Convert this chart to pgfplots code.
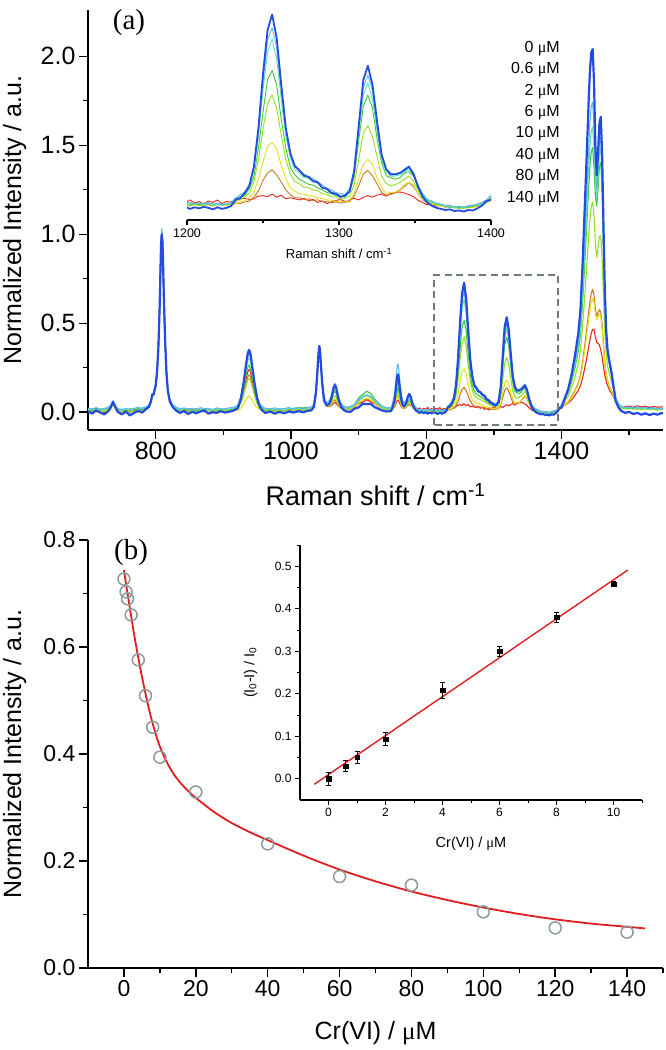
\documentclass[border=0pt]{standalone}
\usepackage{fontspec}
\setmainfont{Liberation Sans}
\newfontfamily\serif{Liberation Serif}
\usepackage{pgfplots}
\usepackage{pgfplotstable}
\pgfplotsset{compat=1.18}

\definecolor{c0}{RGB}{35,75,225}
\definecolor{c1}{RGB}{95,185,240}
\definecolor{c2}{RGB}{100,222,180}
\definecolor{c3}{RGB}{60,200,50}
\definecolor{c4}{RGB}{150,222,40}
\definecolor{c5}{RGB}{225,225,30}
\definecolor{c6}{RGB}{205,120,40}
\definecolor{c7}{RGB}{235,35,30}
\definecolor{boxgray}{RGB}{110,122,128}
\definecolor{circgray}{RGB}{140,155,155}
\definecolor{fitred}{RGB}{225,30,30}

\newcommand{\uM}{{\serif μ}M}

\pgfplotsset{
  panel/.style={
    scale only axis,
    axis x line*=bottom, axis y line*=left,
    tick align=outside,
    tick style={black, line width=1.4pt},
    axis line style={line width=1.8pt},
    major tick length=9pt, minor tick length=5pt,
    /pgf/number format/assume math mode=true,
    /pgf/number format/1000 sep={},
  },
  spec/.style={no marks, line join=round, line width=1.1pt},
}

\begin{document}

% Raman spectra, normalized to the 808 band
\pgfplotstableread{
x s0 s1 s2 s3 s4 s5 s6 s7
700 0.005 0.022 0.012 0.015 0.004 0.002 0.010 0.006
706 -0.008 0.018 0.020 0.010 0.012 0.008 0.002 0.014
712 0.010 0.026 0.010 0.020 0.002 0.000 0.012 0.020
718 -0.002 0.014 0.022 0.012 0.010 0.004 -0.002 0.008
724 -0.012 0.020 0.012 0.022 0.004 0.010 0.010 -0.002
730 0.006 0.028 0.018 0.016 0.012 0.006 0.008 0.018
734 0.030 0.040 0.036 0.032 0.028 0.020 0.026 0.030
737 0.060 0.058 0.052 0.050 0.042 0.038 0.044 0.048
740 0.032 0.040 0.038 0.030 0.030 0.022 0.028 0.034
744 0.002 0.020 0.016 0.012 0.008 0.006 0.010 0.012
750 -0.012 0.016 0.010 0.014 0.002 -0.002 0.008 0.000
756 0.004 0.022 0.018 0.008 0.012 0.004 0.000 0.014
762 -0.018 0.012 0.012 0.020 -0.002 0.010 0.012 0.002
768 -0.004 0.020 0.022 0.010 0.010 0.006 -0.002 0.012
774 0.008 0.028 0.016 0.018 0.004 0.000 0.010 0.020
780 -0.002 0.018 0.026 0.014 0.016 0.008 0.006 0.008
786 0.018 0.030 0.030 0.026 0.020 0.018 0.020 0.022
790 0.030 0.040 0.036 0.034 0.030 0.026 0.030 0.032
793 0.060 0.066 0.062 0.058 0.056 0.050 0.054 0.058
795 0.100 0.104 0.098 0.096 0.092 0.088 0.094 0.096
797 0.100 0.108 0.102 0.100 0.096 0.092 0.098 0.100
800 0.150 0.160 0.154 0.150 0.146 0.142 0.148 0.152
802 0.220 0.232 0.226 0.222 0.216 0.212 0.218 0.224
804 0.360 0.372 0.366 0.362 0.356 0.352 0.360 0.366
806 0.600 0.614 0.606 0.602 0.596 0.592 0.600 0.610
807 0.780 0.796 0.788 0.782 0.776 0.772 0.780 0.790
808 0.940 0.962 0.950 0.944 0.938 0.934 0.942 0.952
809 1.000 1.030 1.012 1.006 0.998 0.994 1.002 1.010
810 0.960 0.986 0.970 0.964 0.958 0.952 0.962 0.972
811 0.830 0.852 0.840 0.834 0.828 0.822 0.832 0.842
812 0.660 0.680 0.668 0.664 0.658 0.652 0.662 0.670
814 0.400 0.418 0.408 0.404 0.398 0.394 0.402 0.410
816 0.220 0.236 0.228 0.224 0.218 0.214 0.222 0.228
818 0.120 0.134 0.128 0.124 0.118 0.114 0.122 0.126
821 0.060 0.074 0.068 0.064 0.058 0.054 0.062 0.066
825 0.030 0.044 0.040 0.036 0.030 0.026 0.034 0.036
830 0.010 0.028 0.022 0.020 0.014 0.010 0.016 0.018
836 -0.004 0.020 0.012 0.016 0.006 0.004 0.012 0.010
842 0.006 0.024 0.020 0.010 0.012 0.010 0.004 0.018
848 -0.010 0.016 0.014 0.020 0.002 0.000 0.010 0.004
854 0.002 0.022 0.010 0.014 0.010 0.008 0.014 0.012
860 -0.006 0.012 0.018 0.008 0.004 -0.002 0.006 0.020
866 0.004 0.026 0.012 0.018 0.012 0.006 0.010 0.006
872 0.010 0.018 0.022 0.012 0.006 0.004 0.002 0.014
878 -0.008 0.022 0.014 0.020 0.010 0.010 0.012 0.008
884 0.000 0.014 0.010 0.010 0.002 0.002 0.008 0.016
890 -0.004 0.024 0.020 0.016 0.012 0.006 0.012 0.006
896 0.006 0.020 0.014 0.012 0.006 0.000 0.004 0.012
902 -0.002 0.016 0.018 0.018 0.010 0.008 0.010 0.010
908 0.002 0.024 0.016 0.014 0.008 0.004 0.008 0.014
914 0.008 0.026 0.022 0.020 0.014 0.008 0.014 0.016
920 0.018 0.036 0.030 0.028 0.020 0.012 0.020 0.024
922 0.028 0.045 0.038 0.035 0.024 0.012 0.026 0.028
926 0.077 0.088 0.079 0.070 0.050 0.024 0.054 0.060
930 0.165 0.166 0.151 0.133 0.095 0.045 0.104 0.118
933 0.252 0.243 0.224 0.195 0.140 0.066 0.154 0.176
936 0.329 0.311 0.288 0.250 0.179 0.085 0.198 0.226
938 0.350 0.330 0.305 0.265 0.190 0.090 0.210 0.240
940 0.332 0.308 0.290 0.248 0.181 0.083 0.200 0.228
943 0.250 0.245 0.222 0.197 0.138 0.068 0.152 0.178
946 0.168 0.164 0.153 0.131 0.097 0.043 0.106 0.116
950 0.079 0.086 0.081 0.072 0.048 0.026 0.052 0.062
954 0.030 0.047 0.036 0.037 0.022 0.014 0.028 0.026
958 0.008 0.030 0.024 0.022 0.014 0.006 0.016 0.018
962 -0.004 0.022 0.016 0.014 0.008 0.004 0.010 0.012
969 0.004 0.018 0.020 0.018 0.012 0.000 0.006 0.008
976 -0.008 0.024 0.012 0.010 0.004 0.006 0.012 0.016
983 0.002 0.016 0.018 0.020 0.010 0.002 0.004 0.006
990 -0.006 0.020 0.014 0.014 0.006 0.008 0.010 0.012
997 0.004 0.026 0.020 0.018 0.014 0.004 0.008 0.018
1004 -0.002 0.018 0.016 0.022 0.010 0.010 0.012 0.008
1011 0.006 0.024 0.022 0.026 0.016 0.006 0.010 0.014
1018 0.000 0.020 0.018 0.024 0.012 0.008 0.014 0.010
1025 0.008 0.026 0.024 0.028 0.018 0.012 0.016 0.018
1030 0.010 0.028 0.024 0.026 0.018 0.014 0.018 0.016
1034 0.030 0.048 0.043 0.042 0.037 0.036 0.038 0.039
1037 0.111 0.125 0.120 0.117 0.112 0.113 0.115 0.114
1039 0.222 0.230 0.225 0.219 0.214 0.218 0.220 0.216
1040 0.285 0.290 0.285 0.277 0.272 0.278 0.280 0.274
1041 0.344 0.346 0.341 0.331 0.326 0.333 0.336 0.328
1042 0.372 0.370 0.365 0.355 0.350 0.358 0.360 0.352
1043 0.347 0.349 0.343 0.333 0.328 0.335 0.337 0.329
1044 0.289 0.294 0.289 0.281 0.276 0.280 0.282 0.277
1046 0.172 0.182 0.176 0.171 0.165 0.168 0.170 0.166
1049 0.063 0.080 0.074 0.071 0.065 0.064 0.066 0.065
1053 0.037 0.055 0.047 0.045 0.038 0.036 0.037 0.036
1057 0.049 0.065 0.053 0.050 0.040 0.034 0.034 0.032
1060 0.082 0.097 0.077 0.072 0.057 0.048 0.045 0.039
1063 0.136 0.147 0.116 0.107 0.084 0.069 0.062 0.051
1065 0.153 0.163 0.128 0.118 0.093 0.076 0.068 0.055
1067 0.135 0.145 0.114 0.106 0.083 0.068 0.060 0.049
1070 0.077 0.092 0.072 0.067 0.051 0.043 0.039 0.034
1074 0.032 0.050 0.040 0.036 0.028 0.022 0.023 0.022
1078 0.012 0.034 0.027 0.026 0.018 0.016 0.016 0.016
1082 0.004 0.028 0.022 0.022 0.014 0.012 0.014 0.014
1088 0.002 0.033 0.025 0.031 0.020 0.020 0.017 0.024
1094 0.020 0.040 0.045 0.044 0.040 0.028 0.034 0.026
1100 0.026 0.070 0.064 0.080 0.060 0.054 0.047 0.050
1106 0.048 0.083 0.094 0.100 0.088 0.067 0.070 0.056
1112 0.046 0.098 0.097 0.118 0.092 0.081 0.072 0.070
1118 0.047 0.084 0.091 0.105 0.083 0.069 0.069 0.058
1124 0.028 0.066 0.069 0.074 0.062 0.050 0.051 0.048
1130 0.018 0.046 0.040 0.048 0.035 0.032 0.030 0.032
1136 0.008 0.032 0.028 0.030 0.022 0.018 0.020 0.022
1142 0.004 0.024 0.020 0.022 0.014 0.012 0.014 0.016
1148 0.006 0.026 0.022 0.020 0.016 0.012 0.016 0.014
1150 0.023 0.047 0.030 0.028 0.021 0.017 0.019 0.018
1153 0.065 0.097 0.058 0.052 0.044 0.036 0.036 0.029
1155 0.128 0.172 0.100 0.088 0.077 0.063 0.062 0.046
1157 0.198 0.255 0.147 0.128 0.113 0.093 0.090 0.064
1158 0.213 0.272 0.157 0.137 0.121 0.100 0.096 0.068
1159 0.199 0.256 0.148 0.129 0.114 0.094 0.091 0.065
1161 0.131 0.174 0.102 0.090 0.078 0.064 0.063 0.047
1164 0.054 0.081 0.051 0.045 0.038 0.031 0.032 0.026
1167 0.032 0.052 0.035 0.032 0.026 0.021 0.023 0.020
1170 0.048 0.062 0.045 0.040 0.032 0.028 0.029 0.026
1173 0.089 0.093 0.069 0.060 0.050 0.044 0.046 0.039
1175 0.102 0.103 0.077 0.067 0.057 0.050 0.051 0.043
1177 0.087 0.090 0.067 0.059 0.050 0.043 0.045 0.038
1180 0.041 0.053 0.040 0.035 0.029 0.024 0.026 0.025
1184 0.012 0.030 0.022 0.021 0.015 0.013 0.015 0.016
1187 0.004 0.018 0.014 0.010 0.012 0.008 0.012 0.018
1190 -0.004 0.012 0.008 0.016 0.006 0.010 0.006 0.024
1193 0.002 0.016 0.012 0.008 0.010 0.004 0.012 0.012
1196 -0.006 0.010 0.016 0.012 0.004 0.010 0.008 0.022
1199 0.000 0.014 0.006 0.014 0.010 0.006 0.014 0.016
1202 -0.008 0.018 0.012 0.006 0.006 0.002 0.006 0.026
1205 -0.002 0.008 0.010 0.012 0.012 0.008 0.010 0.014
1208 -0.006 0.014 0.014 0.008 0.004 0.010 0.004 0.020
1211 0.000 0.012 0.008 0.014 0.008 0.004 0.012 0.010
1214 -0.004 0.016 0.012 0.010 0.010 0.008 0.008 0.022
1217 -0.010 0.010 0.006 0.006 0.004 0.002 0.004 0.016
1220 -0.002 0.014 0.010 0.012 0.010 0.008 0.010 0.026
1223 -0.008 0.008 0.004 0.008 0.006 0.004 0.006 0.012
1226 -0.004 0.012 0.010 0.010 0.008 0.006 0.010 0.020
1229 0.003 0.016 0.014 0.012 0.012 0.006 0.010 0.018
1232 0.027 0.033 0.034 0.026 0.024 0.012 0.015 0.022
1235 0.033 0.046 0.038 0.036 0.026 0.019 0.012 0.030
1238 0.052 0.056 0.055 0.043 0.038 0.021 0.019 0.032
1241 0.078 0.087 0.077 0.068 0.052 0.034 0.021 0.026
1244 0.152 0.148 0.141 0.113 0.095 0.054 0.037 0.030
1247 0.298 0.290 0.266 0.222 0.177 0.107 0.060 0.040
1250 0.502 0.470 0.442 0.358 0.295 0.169 0.100 0.042
1253 0.668 0.630 0.584 0.481 0.388 0.229 0.127 0.038
1256 0.727 0.677 0.635 0.515 0.423 0.243 0.140 0.048
1259 0.638 0.603 0.558 0.460 0.371 0.219 0.121 0.036
1262 0.462 0.433 0.408 0.330 0.272 0.156 0.093 0.044
1265 0.298 0.290 0.266 0.222 0.177 0.107 0.064 0.030
1268 0.202 0.194 0.184 0.148 0.124 0.070 0.046 0.034
1271 0.153 0.157 0.141 0.120 0.094 0.059 0.034 0.030
1274 0.138 0.134 0.128 0.103 0.087 0.049 0.034 0.026
1277 0.118 0.124 0.111 0.096 0.074 0.048 0.028 0.032
1280 0.113 0.111 0.107 0.085 0.072 0.041 0.030 0.022
1283 0.097 0.106 0.094 0.082 0.063 0.041 0.024 0.028
1286 0.093 0.093 0.089 0.071 0.061 0.034 0.026 0.016
1289 0.072 0.083 0.072 0.064 0.049 0.032 0.020 0.022
1292 0.068 0.070 0.068 0.054 0.047 0.026 0.021 0.012
1295 0.052 0.064 0.055 0.050 0.037 0.025 0.016 0.018
1298 0.049 0.053 0.052 0.041 0.037 0.020 0.018 0.024
1301 0.037 0.050 0.042 0.040 0.029 0.021 0.014 0.028
1304 0.042 0.047 0.046 0.037 0.032 0.018 0.017 0.020
1307 0.058 0.069 0.060 0.057 0.040 0.027 0.020 0.026
1310 0.137 0.134 0.128 0.112 0.085 0.049 0.041 0.032
1313 0.308 0.299 0.275 0.253 0.180 0.110 0.080 0.026
1316 0.480 0.450 0.423 0.380 0.278 0.162 0.124 0.036
1319 0.533 0.498 0.469 0.422 0.307 0.179 0.137 0.042
1322 0.462 0.441 0.407 0.373 0.266 0.161 0.117 0.036
1325 0.324 0.306 0.289 0.259 0.190 0.110 0.087 0.044
1328 0.198 0.198 0.180 0.168 0.118 0.074 0.054 0.048
1331 0.143 0.139 0.132 0.117 0.088 0.050 0.044 0.040
1334 0.122 0.129 0.116 0.110 0.079 0.055 0.047 0.050
1337 0.123 0.121 0.116 0.104 0.084 0.055 0.052 0.054
1340 0.128 0.126 0.121 0.110 0.092 0.065 0.063 0.056
1343 0.138 0.144 0.131 0.127 0.103 0.085 0.076 0.052
1346 0.152 0.150 0.143 0.133 0.117 0.093 0.092 0.046
1349 0.123 0.131 0.118 0.116 0.096 0.083 0.076 0.038
1352 0.077 0.080 0.078 0.071 0.063 0.049 0.051 0.024
1355 0.038 0.051 0.043 0.045 0.034 0.029 0.026 0.016
1358 0.016 0.029 0.028 0.024 0.022 0.014 0.017 0.008
1361 0.004 0.022 0.017 0.019 0.013 0.010 0.008 0.010
1364 -0.004 0.014 0.012 0.013 0.010 0.006 0.009 0.002
1367 -0.008 0.010 0.006 0.008 0.004 0.002 0.006 0.008
1370 -0.012 0.004 0.002 0.004 0.002 0.000 0.002 -0.002
1373 -0.010 0.006 0.000 -0.002 -0.002 0.002 -0.004 0.004
1376 -0.016 0.000 -0.004 0.002 -0.004 -0.004 0.000 -0.004
1379 -0.014 0.002 -0.006 -0.004 0.000 -0.002 -0.006 0.002
1382 -0.018 -0.002 -0.002 0.000 -0.006 -0.006 -0.002 -0.006
1385 -0.012 0.004 0.000 -0.004 -0.002 0.000 0.002 0.000
1388 -0.014 0.006 0.004 0.002 0.002 -0.004 -0.002 0.006
1391 -0.006 0.010 0.008 0.006 0.006 0.004 0.006 0.002
1394 0.004 0.016 0.012 0.010 0.010 0.008 0.012 0.014
1397 0.022 0.026 0.022 0.018 0.016 0.014 0.018 0.024
1400 0.026 0.044 0.038 0.037 0.030 0.024 0.025 0.028
1405 0.079 0.089 0.079 0.076 0.061 0.041 0.042 0.040
1410 0.131 0.133 0.120 0.113 0.091 0.057 0.060 0.052
1415 0.214 0.203 0.185 0.173 0.139 0.083 0.088 0.070
1420 0.320 0.293 0.268 0.250 0.200 0.117 0.124 0.095
1425 0.450 0.403 0.369 0.344 0.275 0.157 0.168 0.124
1428 0.580 0.512 0.470 0.437 0.348 0.195 0.209 0.150
1431 0.820 0.711 0.651 0.604 0.476 0.258 0.278 0.190
1434 1.120 0.960 0.879 0.813 0.638 0.338 0.366 0.242
1437 1.420 1.211 1.110 1.025 0.803 0.423 0.459 0.299
1440 1.740 1.480 1.357 1.254 0.983 0.517 0.561 0.364
1442 1.920 1.632 1.498 1.384 1.088 0.574 0.623 0.406
1444 2.020 1.721 1.581 1.464 1.156 0.618 0.668 0.443
1446 2.040 1.743 1.604 1.487 1.182 0.640 0.690 0.466
1448 1.860 1.601 1.478 1.375 1.106 0.616 0.660 0.464
1450 1.500 1.361 1.290 1.218 0.949 0.556 0.583 0.423
1452 1.330 1.256 1.213 1.157 0.870 0.519 0.538 0.393
1454 1.460 1.371 1.322 1.257 0.925 0.535 0.557 0.387
1456 1.620 1.512 1.456 1.379 0.990 0.551 0.576 0.377
1458 1.660 1.544 1.485 1.403 0.990 0.536 0.563 0.350
1460 1.450 1.352 1.299 1.228 0.868 0.471 0.495 0.310
1462 1.050 0.988 0.950 0.901 0.650 0.366 0.383 0.256
1464 0.680 0.652 0.628 0.599 0.450 0.271 0.280 0.209
1466 0.460 0.451 0.435 0.418 0.327 0.209 0.214 0.174
1468 0.351 0.351 0.338 0.326 0.261 0.173 0.177 0.150
1471 0.280 0.284 0.273 0.264 0.212 0.141 0.145 0.124
1474 0.220 0.228 0.219 0.211 0.171 0.116 0.119 0.105
1477 0.140 0.155 0.147 0.144 0.123 0.090 0.091 0.087
1480 0.064 0.083 0.078 0.077 0.070 0.056 0.056 0.060
1484 0.028 0.050 0.045 0.045 0.040 0.034 0.034 0.039
1488 0.008 0.035 0.030 0.030 0.025 0.022 0.022 0.027
1494 -0.004 0.026 0.022 0.024 0.020 0.018 0.022 0.030
1500 0.002 0.030 0.026 0.020 0.024 0.022 0.020 0.034
1506 -0.010 0.022 0.020 0.026 0.018 0.016 0.024 0.028
1512 -0.004 0.030 0.024 0.022 0.022 0.020 0.018 0.036
1518 -0.014 0.024 0.018 0.020 0.016 0.014 0.022 0.030
1524 -0.006 0.028 0.022 0.024 0.020 0.018 0.020 0.034
1530 -0.016 0.020 0.016 0.018 0.014 0.016 0.018 0.026
1536 -0.008 0.026 0.020 0.022 0.018 0.014 0.022 0.032
1542 -0.014 0.018 0.016 0.016 0.012 0.012 0.016 0.028
1548 -0.004 0.024 0.020 0.020 0.018 0.016 0.020 0.030
1550 -0.008 0.022 0.018 0.018 0.016 0.014 0.018 0.030
}\spec

% inset (b): quenching ratio with error bars
\pgfplotstableread{
c q e
0 0.000 0.015
0.6 0.030 0.012
1 0.050 0.015
2 0.093 0.015
4 0.208 0.018
6 0.300 0.012
8 0.380 0.012
10 0.458 0.006
}\quench

\begin{tikzpicture}
\path[use as bounding box] (0,0) rectangle (666pt,1050pt);

%% (a) main spectra
\begin{axis}[panel,
  at={(88pt,620pt)}, anchor=south west,
  width=575pt, height=420pt,
  xmin=700, xmax=1550, ymin=-0.1, ymax=2.26,
  xtick={800,1000,1200,1400}, minor xtick={900,1100,1300,1500},
  ytick={0,0.5,1,1.5,2}, minor ytick={0.25,0.75,1.25,1.75},
  yticklabel style={/pgf/number format/.cd,fixed,fixed zerofill,precision=1},
  tick label style={font=\fontsize{25}{30}\selectfont},
  xlabel={Raman shift / cm\textsuperscript{-1}},
  ylabel={Normalized Intensity / a.u.},
  xlabel style={font=\fontsize{27}{32}\selectfont, at={(axis description cs:0.5,-0.179)}, anchor=base, inner sep=0pt},
  ylabel style={font=\fontsize{25}{30}\selectfont, at={(axis description cs:-0.148,0.5)}, anchor=north, rotate=0, inner sep=0pt},
]
\addplot[spec, c7] table[x=x, y=s7] {\spec};
\addplot[spec, c6] table[x=x, y=s6] {\spec};
\addplot[spec, c5] table[x=x, y=s5] {\spec};
\addplot[spec, c4] table[x=x, y=s4] {\spec};
\addplot[spec, c3] table[x=x, y=s3] {\spec};
\addplot[spec, c2] table[x=x, y=s2] {\spec};
\addplot[spec, c1] table[x=x, y=s1] {\spec};
\addplot[spec, c0, line width=2.2pt] table[x=x, y=s0] {\spec};
\draw[boxgray, line width=2.2pt, dash pattern=on 7pt off 4.5pt] (axis cs:1211,-0.07) rectangle (axis cs:1395,0.772);
\end{axis}

%% (a) inset, 1200-1400
\begin{axis}[panel,
  at={(187pt,830pt)}, anchor=south west,
  width=304pt, height=214.2pt,
  xmin=1200, xmax=1400, ymin=-0.05, ymax=0.76,
  axis y line=none,
  axis line style={line width=1.4pt},
  tick style={black, line width=1.2pt},
  major tick length=5pt, minor tick length=3pt,
  xtick={1200,1300,1400}, minor xtick={1250,1350},
  tick label style={font=\fontsize{12.5}{15}\selectfont},
  xlabel={Raman shift / cm\textsuperscript{-1}},
  xlabel style={font=\fontsize{13}{15}\selectfont, at={(axis description cs:0.5,-0.18)}, anchor=base, inner sep=0pt},
]
\addplot[spec, c7, line width=0.9pt] table[x=x, y=s7] {\spec};
\addplot[spec, c6, line width=0.9pt] table[x=x, y=s6] {\spec};
\addplot[spec, c5, line width=0.9pt] table[x=x, y=s5] {\spec};
\addplot[spec, c4, line width=0.9pt] table[x=x, y=s4] {\spec};
\addplot[spec, c3, line width=0.9pt] table[x=x, y=s3] {\spec};
\addplot[spec, c2, line width=0.9pt] table[x=x, y=s2] {\spec};
\addplot[spec, c1, line width=0.9pt] table[x=x, y=s1] {\spec};
\addplot[spec, c0, line width=1.8pt] table[x=x, y=s0] {\spec};
\end{axis}

% concentration list beside the spectra
\begin{scope}[every node/.style={anchor=east, inner sep=0pt, font=\fontsize{16}{18}\selectfont}]
\node at (560pt,1001pt) {0 \uM};
\node at (560pt,980pt) {0.6 \uM};
\node at (560pt,958.5pt) {2 \uM};
\node at (560pt,937.5pt) {6 \uM};
\node at (560pt,916pt) {10 \uM};
\node at (560pt,894pt) {40 \uM};
\node at (560pt,873pt) {80 \uM};
\node at (560pt,851.5pt) {140 \uM};
\end{scope}
\node[font=\serif\fontsize{29}{32}\selectfont, inner sep=0pt] at (129pt,1027pt) {(a)};

%% (b) intensity vs Cr(VI)
\begin{axis}[panel,
  at={(88pt,82pt)}, anchor=south west,
  width=575pt, height=428pt,
  xmin=-10, xmax=150, ymin=0, ymax=0.8,
  xtick={0,20,...,140}, minor xtick={10,30,...,150},
  ytick={0,0.2,0.4,0.6,0.8}, minor ytick={0.1,0.3,0.5,0.7},
  yticklabel style={/pgf/number format/.cd,fixed,fixed zerofill,precision=1},
  tick label style={font=\fontsize{23}{28}\selectfont},
  xlabel={Cr(VI) / \uM},
  ylabel={Normalized Intensity / a.u.},
  xlabel style={font=\fontsize{25}{30}\selectfont, at={(axis description cs:0.5,-0.168)}, anchor=base, inner sep=0pt},
  ylabel style={font=\fontsize{25}{30}\selectfont, at={(axis description cs:-0.148,0.5)}, anchor=north, inner sep=0pt},
]
\addplot[only marks, mark=o, mark size=6pt, circgray, mark options={line width=1.5pt}] coordinates {
(0,0.727) (0.6,0.703) (1,0.690) (2,0.660) (4,0.576) (6,0.509) (8,0.450) (10,0.394)
(20,0.329) (40,0.232) (60,0.171) (80,0.155) (100,0.105) (120,0.075) (140,0.067)};
\addplot[fitred, line width=1.8pt, no marks, smooth] coordinates {
(0,0.744) (1,0.700) (2,0.658) (3,0.617) (4,0.580) (5,0.545) (6,0.513) (7,0.483)
(8,0.457) (9,0.434) (10,0.414) (12,0.384) (14,0.361) (16,0.344) (18,0.330) (20,0.318)
(25,0.292) (30,0.271) (35,0.254) (40,0.239) (50,0.210) (60,0.184) (70,0.162) (80,0.143)
(90,0.127) (100,0.113) (110,0.101) (120,0.091) (130,0.083) (140,0.077) (145,0.074)};
\end{axis}
\node[font=\serif\fontsize{29}{32}\selectfont, inner sep=0pt] at (131pt,497pt) {(b)};

%% (b) inset, linear range
\begin{axis}[panel,
  at={(300pt,250pt)}, anchor=south west,
  width=342pt, height=255pt,
  xmin=-1, xmax=11, ymin=-0.05, ymax=0.55,
  axis line style={line width=1.2pt},
  tick style={black, line width=1pt},
  major tick length=5pt, minor tick length=3pt,
  xtick={0,2,...,10}, minor xtick={1,3,...,11},
  ytick={0,0.1,...,0.5}, minor ytick={0.05,0.15,...,0.55},
  yticklabel style={/pgf/number format/.cd,fixed,fixed zerofill,precision=1},
  tick label style={font=\fontsize{12}{14}\selectfont},
  xlabel={Cr(VI) / \uM},
  ylabel={(I\textsubscript{0}-I) / I\textsubscript{0}},
  xlabel style={font=\fontsize{14.5}{17}\selectfont, at={(axis description cs:0.5,-0.185)}, anchor=base, inner sep=0pt},
  ylabel style={font=\fontsize{14.5}{17}\selectfont, at={(axis description cs:-0.165,0.5)}, anchor=north, inner sep=0pt},
]
\addplot[fitred, line width=1.4pt, no marks] coordinates {(-0.5,-0.013) (10.5,0.491)};
\addplot[black, only marks, mark=square*, mark size=2.2pt,
  error bars/.cd, y dir=both, y explicit,
  error bar style={line width=0.9pt},
  error mark options={rotate=90, mark size=2.5pt, line width=0.9pt}]
  table[x=c, y=q, y error=e] {\quench};
\end{axis}
\end{tikzpicture}
\end{document}
